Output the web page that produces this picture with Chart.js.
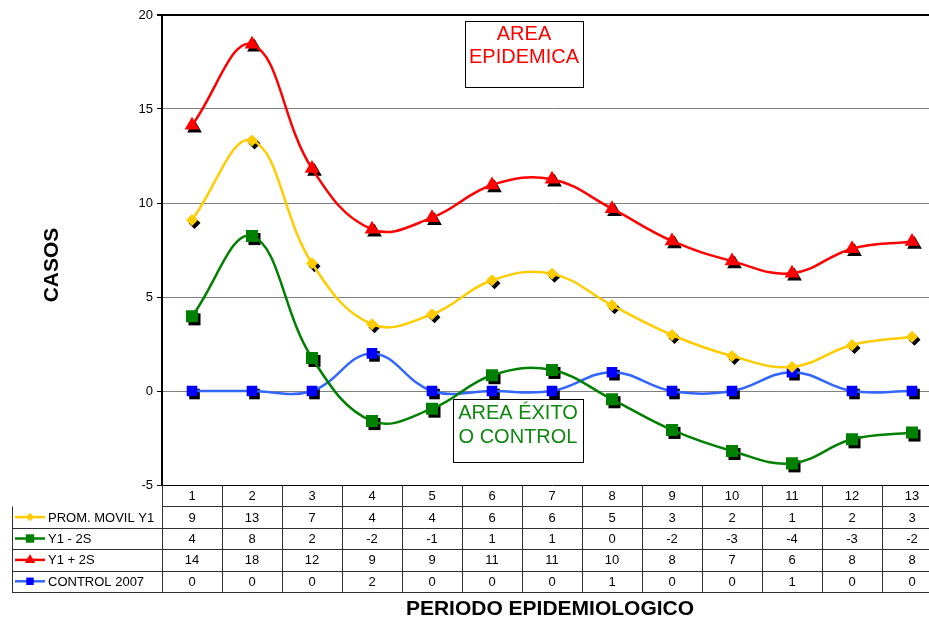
<!DOCTYPE html>
<html>
<head>
<meta charset="utf-8">
<script src="https://cdn.jsdelivr.net/npm/chart.js@4"></script>
<style>
html,body{margin:0;padding:0;background:#fff;overflow:hidden;width:929px;height:619px;}
#wrap{position:absolute;left:0;top:0;width:960px;height:619px;}
</style>
</head>
<body>
<div id="wrap"><canvas id="c"></canvas></div>
<script>
// ---- data ----
const categories = ['1','2','3','4','5','6','7','8','9','10','11','12','13'];
const promMovil = [9.1, 13.33, 6.79, 3.55, 4.08, 5.89, 6.24, 4.56, 2.98, 1.86, 1.28, 2.45, 2.89];
const y1Minus2S = [3.97, 8.24, 1.76, -1.6, -0.94, 0.84, 1.12, -0.44, -2.07, -3.19, -3.85, -2.57, -2.21];
const y1Plus2S = [14.13, 18.44, 11.83, 8.6, 9.22, 10.96, 11.26, 9.7, 7.98, 6.91, 6.26, 7.57, 7.95];
const control2007 = [0, 0, 0, 2, 0, 0, 0, 1, 0, 0, 1, 0, 0];
const yTicks = [-5, 0, 5, 10, 15, 20];

const FONT = 'Arial, "Liberation Sans", sans-serif';

function drawMarker(ctx, style, r, x, y) {
  ctx.beginPath();
  if (style === 'rect') {
    const s = Math.SQRT1_2 * r;
    ctx.rect(x - s, y - s, 2 * s, 2 * s);
  } else if (style === 'rectRot') {
    ctx.moveTo(x, y - r); ctx.lineTo(x + r, y); ctx.lineTo(x, y + r); ctx.lineTo(x - r, y); ctx.closePath();
  } else if (style === 'triangle') {
    ctx.moveTo(x, y - r);
    ctx.lineTo(x + 0.866 * r, y + 0.5 * r);
    ctx.lineTo(x - 0.866 * r, y + 0.5 * r);
    ctx.closePath();
  }
  ctx.fill();
}

const shadowPlugin = {
  id: 'shadow',
  beforeDatasetsDraw(chart) {
    const ctx = chart.ctx;
    ctx.save();
    ctx.fillStyle = '#000';
    chart.data.datasets.forEach((ds, i) => {
      const meta = chart.getDatasetMeta(i);
      meta.data.forEach(pt => {
        drawMarker(ctx, ds.pointStyle, ds.pointRadius, pt.x + 2.5, pt.y + 3);
      });
    });
    ctx.restore();
  }
};

const tablePlugin = {
  id: 'table',
  afterDraw(chart) {
    const ctx = chart.ctx;
    const xs = chart.scales.x;
    const area = chart.chartArea;
    const step = xs.getPixelForValue(1) - xs.getPixelForValue(0);
    const left = area.left, right = area.right;
    const top = area.bottom;
    const rowH = 21.4;
    const legLeft = 12;
    ctx.save();
    ctx.strokeStyle = '#303030';
    ctx.lineWidth = 1;
    ctx.beginPath();
    for (let r = 1; r <= 5; r++) {
      const y = Math.round(top + r * rowH) + 0.5;
      ctx.moveTo(r === 1 ? left : legLeft, y);
      ctx.lineTo(right, y);
    }
    ctx.moveTo(legLeft + 0.5, Math.round(top + rowH) + 0.5);
    ctx.lineTo(legLeft + 0.5, Math.round(top + 5 * rowH) + 0.5);
    for (let i = 0; i <= categories.length; i++) {
      const x = Math.round(xs.getPixelForValue(0) - step / 2 + i * step) + 0.5;
      ctx.moveTo(x, top);
      ctx.lineTo(x, Math.round(top + 5 * rowH) + 0.5);
    }
    ctx.stroke();

    ctx.fillStyle = '#000';
    ctx.font = '13px ' + FONT;
    ctx.textAlign = 'center';
    ctx.textBaseline = 'middle';
    categories.forEach((c, i) => {
      ctx.fillText(c, xs.getPixelForValue(i), top + rowH / 2 + 1);
    });
    chart.data.datasets.forEach((ds, r) => {
      const cy = top + (r + 1.5) * rowH + 1;
      ds.data.forEach((v, i) => {
        const t = String(Math.round(v) === 0 ? 0 : Math.round(v));
        ctx.fillText(t, xs.getPixelForValue(i), cy);
      });
      ctx.strokeStyle = ds.borderColor;
      ctx.lineWidth = 2.5;
      ctx.beginPath();
      ctx.moveTo(15, cy - 1); ctx.lineTo(45, cy - 1);
      ctx.stroke();
      ctx.fillStyle = ds.pointBackgroundColor;
      drawMarker(ctx, ds.pointStyle, ds.pointRadius * 0.7, 30, cy - 1);
      ctx.fillStyle = '#000';
      ctx.textAlign = 'left';
      ctx.fillText(ds.label, 48, cy);
      ctx.textAlign = 'center';
    });

    ctx.font = 'bold 21px ' + FONT;
    ctx.fillText('PERIODO EPIDEMIOLOGICO', 550, 609);
    ctx.save();
    ctx.translate(52, 265);
    ctx.rotate(-Math.PI / 2);
    ctx.font = 'bold 21px ' + FONT;
    ctx.fillText('CASOS', 0, 0);
    ctx.restore();

    function box(x1, y1, x2, y2, lines, color, ly) {
      ctx.fillStyle = '#fff';
      ctx.fillRect(x1, y1, x2 - x1, y2 - y1);
      ctx.strokeStyle = '#000';
      ctx.lineWidth = 1;
      ctx.strokeRect(x1 + 0.5, y1 + 0.5, x2 - x1, y2 - y1);
      ctx.fillStyle = color;
      ctx.font = '20px ' + FONT;
      ctx.textAlign = 'center';
      lines.forEach((l, k) => ctx.fillText(l, (x1 + x2) / 2, ly[k]));
    }
    box(465, 21, 583, 87, ['AREA', 'EPIDEMICA'], '#ff0000', [34, 57]);
    box(453, 399, 583, 462, ['AREA ÉXITO', 'O CONTROL'], '#118811', [413, 437]);
    ctx.restore();
  }
};

const common = { fill: false, tension: 0.4, borderWidth: 2.5, pointBorderWidth: 0, pointHoverRadius: 0 };

new Chart(document.getElementById('c'), {
  type: 'line',
  data: {
    labels: categories,
    datasets: [
      Object.assign({ label: 'PROM. MOVIL Y1', data: promMovil, borderColor: '#ffcc00', pointBackgroundColor: '#ffcc00', pointStyle: 'rectRot', pointRadius: 6 }, common),
      Object.assign({ label: 'Y1 - 2S', data: y1Minus2S, borderColor: '#008000', pointBackgroundColor: '#008000', pointStyle: 'rect', pointRadius: 8.5 }, common),
      Object.assign({ label: 'Y1 + 2S', data: y1Plus2S, borderColor: '#ff0000', pointBackgroundColor: '#ff0000', pointStyle: 'triangle', pointRadius: 8.5 }, common),
      Object.assign({ label: 'CONTROL 2007', data: control2007, borderColor: '#3366ff', pointBackgroundColor: '#0000ff', pointStyle: 'rect', pointRadius: 7.5 }, common)
    ]
  },
  options: {
    responsive: true,
    maintainAspectRatio: false,
    animation: false,
    events: [],
    layout: { padding: { left: 0, top: 15, right: 18, bottom: 134 } },
    plugins: { legend: { display: false }, tooltip: { enabled: false } },
    scales: {
      x: { display: false, offset: true },
      y: {
        min: -5, max: 20,
        afterFit(s) { s.width = 162; },
        afterBuildTicks(s) { s.ticks = yTicks.map(v => ({ value: v })); },
        ticks: { font: { size: 13, family: FONT }, color: '#000', padding: 4 },
        grid: {
          color: c => (c.tick && (c.tick.value === 20 || c.tick.value === -5)) ? '#000' : '#808080',
          lineWidth: c => (c.tick && c.tick.value === 20) ? 2 : 1,
          tickLength: 5,
          tickColor: '#000'
        },
        border: { color: '#000', width: 2 }
      }
    }
  },
  plugins: [shadowPlugin, tablePlugin]
});
</script>
</body>
</html>
